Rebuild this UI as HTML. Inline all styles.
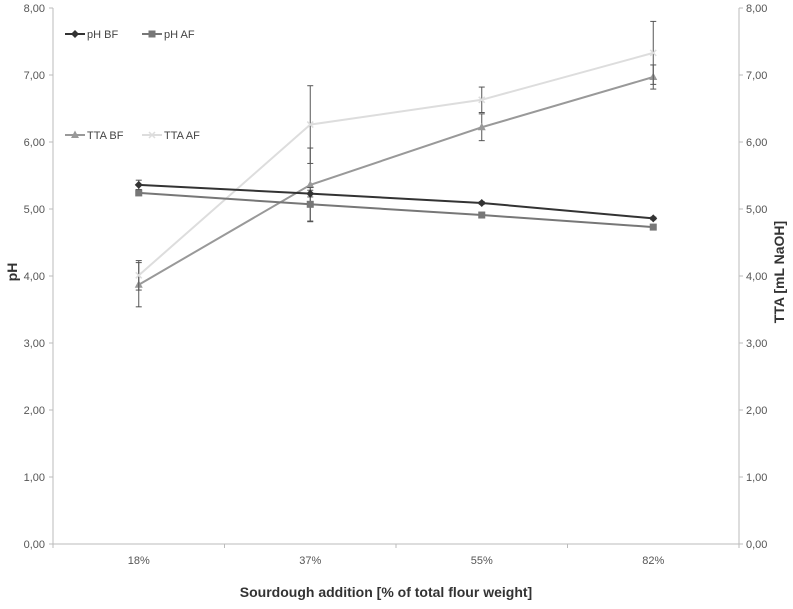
<!DOCTYPE html>
<html><head><meta charset="utf-8"><style>
body{margin:0;background:#fff;font-family:"Liberation Sans",sans-serif}
</style></head><body>
<svg id="c" width="793" height="604" font-family="Liberation Sans, sans-serif"></svg>
<script>
const categories=["18%","37%","55%","82%"];
const phBF=[5.36,5.23,5.09,4.86];
const phBFerr=[0.07,0.05,0.02,0.02];
const phAF=[5.24,5.07,4.91,4.73];
const phAFerr=[0.03,0.25,0.03,0.03];
const ttaBF=[3.87,5.36,6.22,6.97];
const ttaBFerr=[0.33,0.55,0.2,0.18];
const ttaAF=[4.01,6.26,6.63,7.33];
const ttaAFerr=[0.22,0.58,0.19,0.47];
const yTicks=[0,1,2,3,4,5,6,7,8];
const NS="http://www.w3.org/2000/svg";
const svg=document.getElementById('c');
const L=53,R=739,T=8,B=544;
const band=(R-L)/categories.length;
const x=i=>L+band*(i+0.5);
const y=v=>B-(v/8)*(B-T);
function el(t,a,p){const e=document.createElementNS(NS,t);for(const k in a)e.setAttribute(k,a[k]);(p||svg).appendChild(e);return e;}
const ax=el('g',{});


el('line',{x1:L,y1:T,x2:L,y2:B,stroke:'#bbb'},ax);
el('line',{x1:R,y1:T,x2:R,y2:B,stroke:'#bbb'},ax);
el('line',{x1:L,y1:B,x2:R,y2:B,stroke:'#bbb'},ax);
yTicks.forEach(v=>{
  el('line',{x1:L-4,y1:y(v),x2:L,y2:y(v),stroke:'#bbb'},ax);
  el('line',{x1:R,y1:y(v),x2:R+4,y2:y(v),stroke:'#bbb'},ax);
  const t1=el('text',{x:L-8,y:y(v)+4,'text-anchor':'end','font-size':11,fill:'#555'},ax);t1.textContent=v.toFixed(2).replace('.',',');
  
  
  const t2=el('text',{x:R+7,y:y(v)+4,'font-size':11,fill:'#555'},ax);t2.textContent=v.toFixed(2).replace('.',',');
  
  
});
for(let i=0;i<=categories.length;i++)el('line',{x1:L+band*i,y1:B,x2:L+band*i,y2:B+4,stroke:'#bbb'},ax);
categories.forEach((c,i)=>{const t=el('text',{x:x(i),y:B+20,'text-anchor':'middle','font-size':11,fill:'#555'},ax);t.textContent=c;
  
  });
function series(vals,errs,color,marker,name){
  const g=el('g',{});
  
  
  el('polyline',{points:vals.map((v,i)=>x(i)+','+y(v)).join(' '),fill:'none',stroke:color,'stroke-width':2},g);
  vals.forEach((v,i)=>{
    const e=errs[i],cx=x(i);
    el('line',{x1:cx,y1:y(v+e),x2:cx,y2:y(v-e),stroke:'#555'},g);
    el('line',{x1:cx-3,y1:y(v+e),x2:cx+3,y2:y(v+e),stroke:'#555'},g);
    el('line',{x1:cx-3,y1:y(v-e),x2:cx+3,y2:y(v-e),stroke:'#555'},g);
    drawMarker(g,marker,cx,y(v),color);
  });
}
function drawMarker(g,m,cx,cy,color){
  if(m==='d')el('polygon',{points:`${cx},${cy-4} ${cx+4},${cy} ${cx},${cy+4} ${cx-4},${cy}`,fill:color},g);
  else if(m==='s')el('rect',{x:cx-3.5,y:cy-3.5,width:7,height:7,fill:color},g);
  else if(m==='t')el('polygon',{points:`${cx},${cy-4.5} ${cx+4},${cy+3} ${cx-4},${cy+3}`,fill:color},g);
  else {el('line',{x1:cx-3,y1:cy-3,x2:cx+3,y2:cy+3,stroke:color,'stroke-width':1.5},g);el('line',{x1:cx-3,y1:cy+3,x2:cx+3,y2:cy-3,stroke:color,'stroke-width':1.5},g);}
}
series(ttaBF,ttaBFerr,'#999','t','series-tta-bf');
series(ttaAF,ttaAFerr,'#ddd','x','series-tta-af');
series(phAF,phAFerr,'#777','s','series-ph-af');
series(phBF,phBFerr,'#333','d','series-ph-bf');
const leg=[["pH BF",'#333','d',65,34],["pH AF",'#777','s',142,34],["TTA BF",'#999','t',65,135],["TTA AF",'#ddd','x',142,135]];
leg.forEach(([n,c,m,lx,ly])=>{
  const g=el('g',{});
  
  
  el('line',{x1:lx,y1:ly,x2:lx+20,y2:ly,stroke:c,'stroke-width':2},g);
  drawMarker(g,m,lx+10,ly,c);
  const t=el('text',{x:lx+22,y:ly+4,'font-size':11,fill:'#444'},g);t.textContent=n;
});
const yl=el('text',{x:17,y:272,transform:'rotate(-90 17 272)','text-anchor':'middle','font-size':14,'font-weight':'bold',fill:'#333'});yl.textContent='pH';


const yr=el('text',{x:784,y:272,transform:'rotate(-90 784 272)','text-anchor':'middle','font-size':14,'font-weight':'bold',fill:'#333'});yr.textContent='TTA [mL NaOH]';


const xt=el('text',{x:386,y:597,'text-anchor':'middle','font-size':14,'font-weight':'bold',fill:'#333'});xt.textContent='Sourdough addition [% of total flour weight]';


</script>
</body></html>
